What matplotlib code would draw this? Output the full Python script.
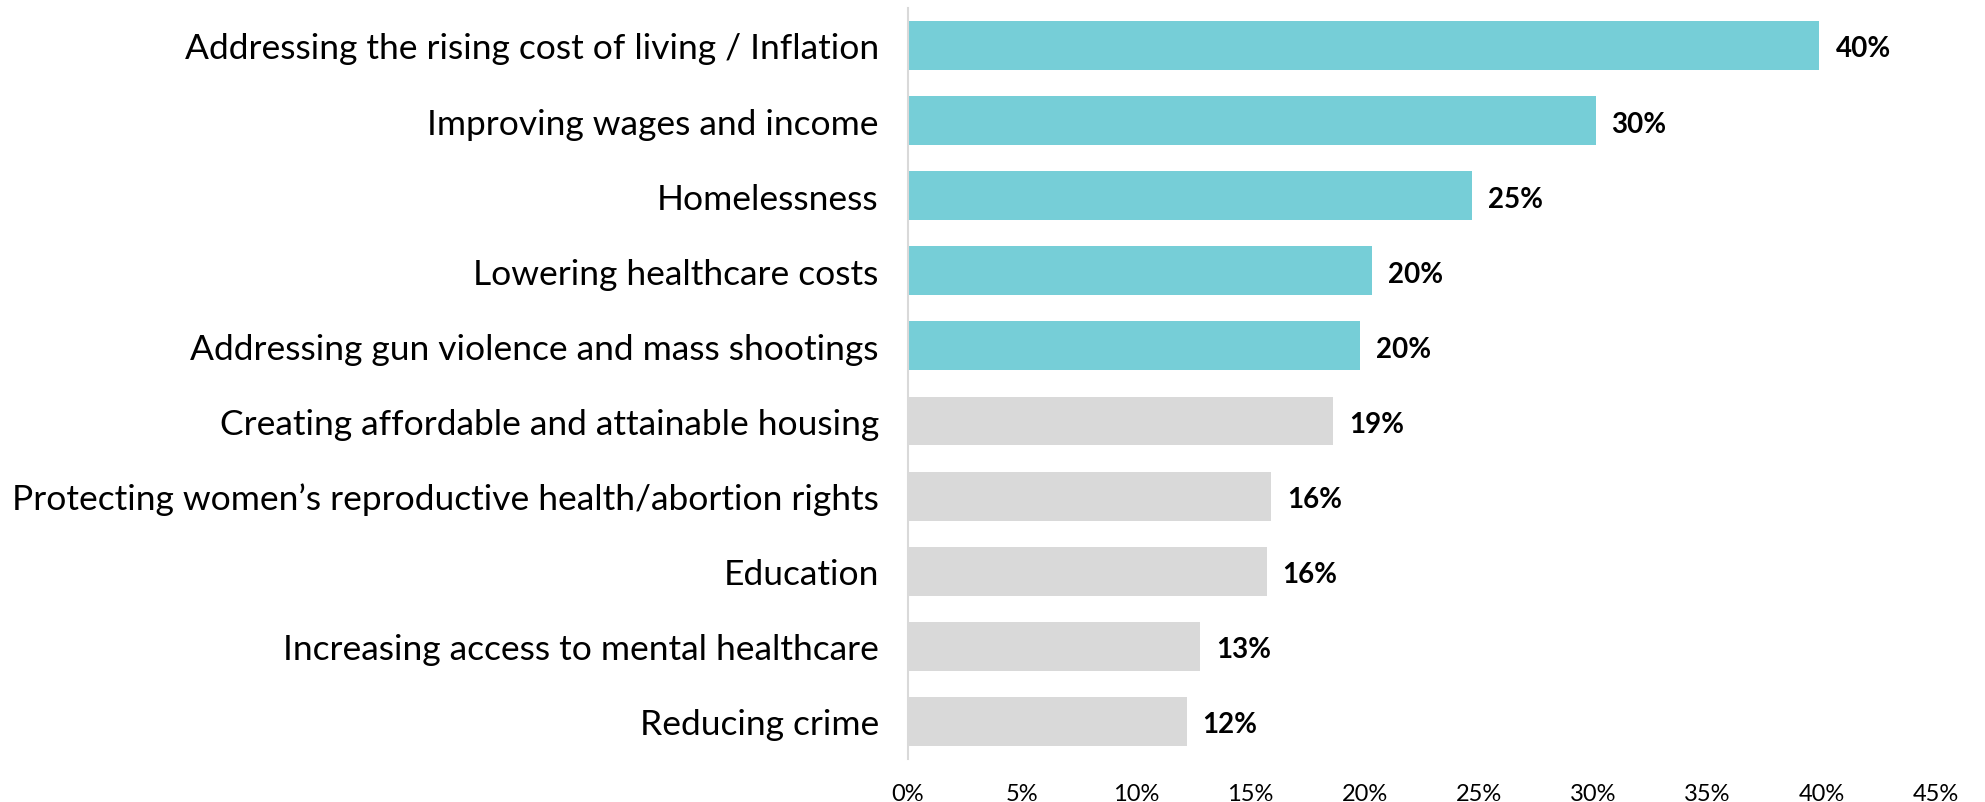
import matplotlib.pyplot as plt
import numpy as np

categories = [
    "Addressing the rising cost of living / Inflation",
    "Improving wages and income",
    "Homelessness",
    "Lowering healthcare costs",
    "Addressing gun violence and mass shootings",
    "Creating affordable and attainable housing",
    "Protecting women\u2019s reproductive health/abortion rights",
    "Education",
    "Increasing access to mental healthcare",
    "Reducing crime",
]
values = [39.9, 30.1, 24.7, 20.3, 19.8, 18.6, 15.9, 15.7, 12.8, 12.2]
highlight = [True, True, True, True, True, False, False, False, False, False]
xticks = [0, 5, 10, 15, 20, 25, 30, 35, 40, 45]

teal = "#76CED7"
grey = "#D9D9D9"

fig = plt.figure(figsize=(19.85, 8.03), dpi=100)
ax = fig.add_axes([0.4574, 0.0535, 0.5179, 0.9355])

y = np.arange(len(categories))
colors = [teal if h else grey for h in highlight]
ax.barh(y, values, height=0.65, color=colors)

for yi, v in zip(y, values):
    ax.text(v + 0.7, yi + 0.04, f"{round(v)}%", va="center", ha="left",
            fontsize=20, fontweight="bold", family="Lato", color="black")

ax.set_yticks(y)
ax.set_yticklabels(categories, fontsize=25.5, family="Lato", color="black")
ax.set_ylim(9.5, -0.5)
ax.set_xlim(0, 45)
ax.set_xticks(xticks)
ax.set_xticklabels([f"{t}%" for t in xticks], fontsize=17, family="Lato", color="black")
ax.tick_params(axis="y", length=0, pad=21)
ax.tick_params(axis="x", length=0, pad=17)

for s in ["top", "right", "bottom"]:
    ax.spines[s].set_visible(False)
ax.spines["left"].set_color(grey)
ax.spines["left"].set_linewidth(1.5)

fig.savefig("out.png", dpi=100)
